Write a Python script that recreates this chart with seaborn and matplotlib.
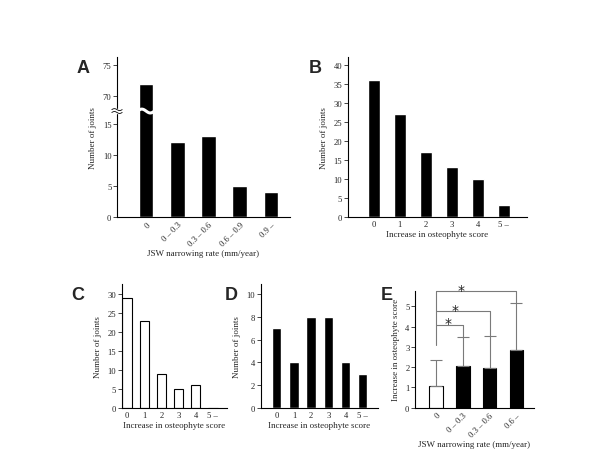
import numpy as np
import matplotlib
matplotlib.use("Agg")
import matplotlib.pyplot as plt
import seaborn as sns

# Data
jsw_cats = ["0", "0 – 0.3", "0.3 – 0.6", "0.6 – 0.9", "0.9 –"]
jsw_counts = [72, 12, 13, 5, 4]

osteo_cats = ["0", "1", "2", "3", "4", "5 –"]
osteo_all = [36, 27, 17, 13, 10, 3]
osteo_no_narrow = [29, 23, 9, 5, 6, 0]
osteo_narrow = [7, 4, 8, 8, 4, 3]

e_cats = ["0", "0 – 0.3", "0.3 – 0.6", "0.6 –"]
e_means = [1.05, 2.04, 1.98, 2.86]
e_sd = [1.31, 1.44, 1.54, 2.29]
sig_pairs = [(0, 1, 4.1), (0, 2, 4.75), (0, 3, 5.74)]

sns.set_style("ticks")
plt.rcParams['font.family'] = ['Liberation Serif', 'DejaVu Serif']
plt.rcParams['axes.linewidth'] = 0.8
plt.rcParams['axes.edgecolor'] = 'black'

fs = 6.2
fig = plt.figure(figsize=(6, 4.64), dpi=100)


def style(ax, ylabel, xlabel):
    sns.despine(ax=ax)
    ax.tick_params(axis='y', length=3, width=0.6, labelsize=fs, pad=1)
    ax.tick_params(axis='x', length=0, labelsize=fs, pad=2.5)
    ax.set_ylabel(ylabel, fontsize=fs + 0.3, labelpad=4)
    ax.set_xlabel(xlabel, fontsize=fs + 0.3, labelpad=1)


# Panel A - broken y axis
def fwd(y):
    y = np.asarray(y, float)
    return np.where(y <= 17, y, np.where(y >= 68.5, y - 50.5, 17 + (y - 17) / 51.5))


def inv(t):
    t = np.asarray(t, float)
    return np.where(t <= 17, t, np.where(t >= 18, t + 50.5, 17 + (t - 17) * 51.5))


axA = fig.add_axes([0.195, 0.5308, 0.288, 0.344])
axA.set_yscale('function', functions=(fwd, inv))
sns.barplot(x=jsw_cats, y=jsw_counts, color='black', width=0.47, saturation=1, ax=axA)
axA.set_ylim(0, 76.3)
axA.set_xlim(-0.93, 4.6)
axA.set_yticks([0, 5, 10, 15, 70, 75])
axA.set_yticklabels(["0", "5", "10", "15", "70", "75"])
style(axA, "Number of joints", "JSW narrowing rate (mm/year)")
plt.setp(axA.get_xticklabels(), rotation=45, ha='right', rotation_mode='anchor')

# break marks
yb = 0.662
xs = np.linspace(-0.27, 0.27, 50)
axA.plot(xs, yb + 0.012 * np.sin((xs + 0.27) / 0.54 * 2 * np.pi),
         color='white', lw=2.2, transform=axA.get_xaxis_transform())
axA.add_patch(plt.Rectangle((-0.01, yb - 0.012), 0.02, 0.024, transform=axA.transAxes,
                            color='white', clip_on=False, zorder=5))
xw = np.linspace(-0.03, 0.03, 30)
for dy in (-0.009, 0.009):
    axA.plot(xw, yb + dy + 0.006 * np.sin((xw + 0.03) / 0.06 * 2 * np.pi),
             color='black', lw=0.6, transform=axA.transAxes, clip_on=False, zorder=6)

# Panel B
axB = fig.add_axes([0.5795, 0.5308, 0.2983, 0.344])
sns.barplot(x=osteo_cats, y=osteo_all, color='black', width=0.47, saturation=1, ax=axB)
axB.set_ylim(0, 42.1)
axB.set_xlim(-1.0, 5.88)
axB.set_yticks(range(0, 41, 5))
style(axB, "Number of joints", "Increase in osteophyte score")

# Panel C
axC = fig.add_axes([0.2028, 0.1185, 0.175, 0.267])
sns.barplot(x=osteo_cats, y=osteo_no_narrow, color='white', edgecolor='black',
            linewidth=0.8, width=0.54, saturation=1, ax=axC)
axC.set_ylim(0, 32.7)
axC.set_xlim(-0.31, 5.8)
axC.set_yticks(range(0, 31, 5))
style(axC, "Number of joints", "Increase in osteophyte score")

# Panel D
axD = fig.add_axes([0.4345, 0.1192, 0.195, 0.2666])
sns.barplot(x=osteo_cats, y=osteo_narrow, color='black', width=0.54, saturation=1, ax=axD)
axD.set_ylim(0, 10.9)
axD.set_xlim(-0.93, 5.87)
axD.set_yticks(range(0, 11, 2))
style(axD, "Number of joints", "Increase in osteophyte score")

# Panel E
axE = fig.add_axes([0.6917, 0.1192, 0.1983, 0.2522])
sns.barplot(x=e_cats, y=e_means, hue=e_cats, palette=['white', 'black', 'black', 'black'],
            edgecolor='black', linewidth=0.8, width=0.5, saturation=1, legend=False, ax=axE)
axE.errorbar(range(len(e_cats)), e_means, yerr=[[0] * len(e_sd), e_sd], fmt='none',
             ecolor='#7a7a7a', elinewidth=0.8, capsize=4, capthick=0.8, zorder=1)
axE.set_ylim(0, 5.77)
axE.set_xlim(-0.79, 3.66)
axE.set_yticks(range(0, 6))
style(axE, "Increase in osteophyte score", "JSW narrowing rate (mm/year)")
plt.setp(axE.get_xticklabels(), rotation=45, ha='right', rotation_mode='anchor')

gray = '#7a7a7a'
axE.plot([0, 0], [3.1, max(h for _, _, h in sig_pairs)], color=gray, lw=0.8, clip_on=False)
for a, b, h in sig_pairs:
    top = e_means[b] + e_sd[b]
    axE.plot([a, b, b], [h, h, top], color=gray, lw=0.8, clip_on=False)
    axE.text(a + 0.45 + 0.25 * (b - 1), h + 0.08, "*", ha='center', va='center',
             fontsize=10, color='#222222', family='DejaVu Sans')

# Panel letters
for lab, x, y in [("A", 0.138, 0.853), ("B", 0.525, 0.853), ("C", 0.13, 0.364),
                  ("D", 0.386, 0.364), ("E", 0.6445, 0.364)]:
    fig.text(x, y, lab, ha='center', va='center', fontsize=13, fontweight='bold',
             family=['Liberation Sans', 'DejaVu Sans'])

fig.savefig("out.png", dpi=100)
